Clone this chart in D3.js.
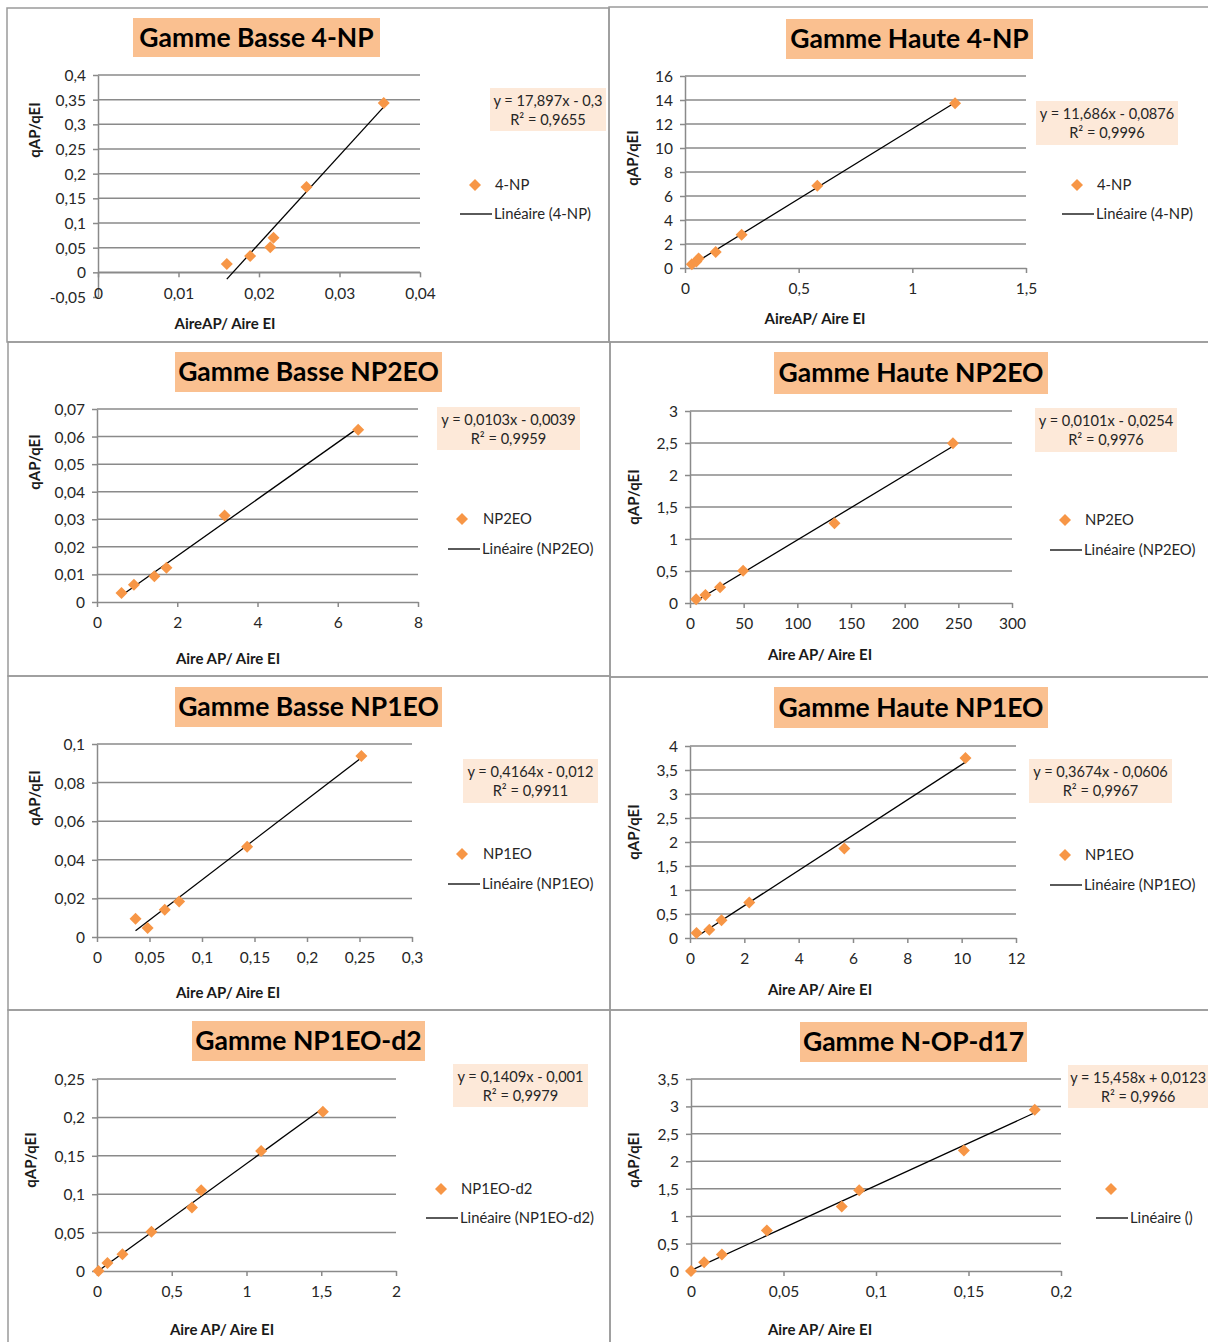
<!DOCTYPE html>
<html>
<head>
<meta charset="utf-8">
<script src="https://cdnjs.cloudflare.com/ajax/libs/d3/7.8.5/d3.min.js"></script>
<style>
  html, body { margin: 0; padding: 0; background: #fff; }
  svg { display: block; }
  text { font-family: Lato, "Open Sans", sans-serif; }
</style>
</head>
<body>
<svg id="chart" width="1208" height="1342"></svg>
<script>
// ---------------- DATA ----------------
const titles = ["Gamme Basse 4-NP", "Gamme Haute 4-NP", "Gamme Basse NP2EO", "Gamme Haute NP2EO",
                "Gamme Basse NP1EO", "Gamme Haute NP1EO", "Gamme NP1EO-d2", "Gamme N-OP-d17"];
const seriesNames = ["4-NP", "4-NP", "NP2EO", "NP2EO", "NP1EO", "NP1EO", "NP1EO-d2", ""];
const xTitles = ["AireAP/ Aire EI", "AireAP/ Aire EI", "Aire AP/ Aire EI", "Aire AP/ Aire EI",
                 "Aire AP/ Aire EI", "Aire AP/ Aire EI", "Aire AP/ Aire EI", "Aire AP/ Aire EI"];
const yTitle = "qAP/qEI";

const x4npBasse = [0.0160, 0.0189, 0.0214, 0.0218, 0.0259, 0.0355];
const y4npBasse = [0.017, 0.033, 0.051, 0.070, 0.173, 0.343];
const x4npHaute = [0.030, 0.050, 0.060, 0.135, 0.249, 0.582, 1.188];
const y4npHaute = [0.32, 0.55, 0.80, 1.33, 2.77, 6.85, 13.73];
const xNp2eoBasse = [0.61, 0.92, 1.43, 1.73, 3.18, 6.51];
const yNp2eoBasse = [0.0033, 0.0063, 0.0093, 0.0124, 0.0314, 0.0625];
const xNp2eoHaute = [5.7, 14.4, 28, 49.5, 134.6, 245];
const yNp2eoHaute = [0.057, 0.125, 0.245, 0.505, 1.245, 2.495];
const xNp1eoBasse = [0.0367, 0.0482, 0.0645, 0.0782, 0.143, 0.2518];
const yNp1eoBasse = [0.0094, 0.0047, 0.0141, 0.0184, 0.0467, 0.0938];
const xNp1eoHaute = [0.24, 0.71, 1.16, 2.18, 5.68, 10.14];
const yNp1eoHaute = [0.104, 0.174, 0.369, 0.737, 1.864, 3.75];
const xNp1eoD2 = [0.01, 0.07, 0.17, 0.364, 0.635, 0.697, 1.098, 1.511];
const yNp1eoD2 = [0.0, 0.0104, 0.0217, 0.0511, 0.0828, 0.1053, 0.1564, 0.2075];
const xNopD17 = [0.0, 0.0071, 0.0167, 0.041, 0.0815, 0.0909, 0.1475, 0.1858];
const yNopD17 = [0.0, 0.158, 0.303, 0.74, 1.176, 1.474, 2.195, 2.94];

const xSeries = [x4npBasse, x4npHaute, xNp2eoBasse, xNp2eoHaute, xNp1eoBasse, xNp1eoHaute, xNp1eoD2, xNopD17];
const ySeries = [y4npBasse, y4npHaute, yNp2eoBasse, yNp2eoHaute, yNp1eoBasse, yNp1eoHaute, yNp1eoD2, yNopD17];

const slopes = [17.897, 11.686, 0.0103, 0.0101, 0.4164, 0.3674, 0.1409, 15.458];
const intercepts = [-0.3, -0.0876, -0.0039, -0.0254, -0.012, -0.0606, -0.001, 0.0123];
const eqLabels = ["y = 17,897x - 0,3", "y = 11,686x - 0,0876", "y = 0,0103x - 0,0039", "y = 0,0101x - 0,0254",
                  "y = 0,4164x - 0,012", "y = 0,3674x - 0,0606", "y = 0,1409x - 0,001", "y = 15,458x + 0,0123"];
const r2Labels = ["R² = 0,9655", "R² = 0,9996", "R² = 0,9959", "R² = 0,9976",
                  "R² = 0,9911", "R² = 0,9967", "R² = 0,9979", "R² = 0,9966"];

const xTicks = [
  [0, 0.01, 0.02, 0.03, 0.04],
  [0, 0.5, 1, 1.5],
  [0, 2, 4, 6, 8],
  [0, 50, 100, 150, 200, 250, 300],
  [0, 0.05, 0.1, 0.15, 0.2, 0.25, 0.3],
  [0, 2, 4, 6, 8, 10, 12],
  [0, 0.5, 1, 1.5, 2],
  [0, 0.05, 0.1, 0.15, 0.2]
];
const yTicks = [
  [-0.05, 0, 0.05, 0.1, 0.15, 0.2, 0.25, 0.3, 0.35, 0.4],
  [0, 2, 4, 6, 8, 10, 12, 14, 16],
  [0, 0.01, 0.02, 0.03, 0.04, 0.05, 0.06, 0.07],
  [0, 0.5, 1, 1.5, 2, 2.5, 3],
  [0, 0.02, 0.04, 0.06, 0.08, 0.1],
  [0, 0.5, 1, 1.5, 2, 2.5, 3, 3.5, 4],
  [0, 0.05, 0.1, 0.15, 0.2, 0.25],
  [0, 0.5, 1, 1.5, 2, 2.5, 3, 3.5]
];

// ---------------- LAYOUT ----------------
const frames = [
  [7, 8, 609, 342], [609, 7, 1212, 342],
  [8, 342, 610, 676], [610, 342, 1212, 677],
  [8, 676, 610, 1010], [610, 677, 1212, 1010],
  [8, 1010, 610, 1346], [610, 1010, 1212, 1346]
];
// ea: equation text anchor ("middle" centred in box, "end" right-aligned inside box)
const layout = [
  {px: [98, 420],  py: [297, 75],   xt: [225, 324],  yt: [35, 130],   tb: [133, 18, 380, 57],   eb: [490, 88, 606, 131],   ea: "middle", lg: [475, 185, 214], lx: [460, 492]},
  {px: [685, 1026], py: [268, 76],  xt: [815, 319],  yt: [633, 158],  tb: [786, 19, 1033, 59],  eb: [1036, 101, 1178, 145], ea: "middle", lg: [1077, 185, 214], lx: [1062, 1094]},
  {px: [97, 418],  py: [602, 409],  xt: [228, 659],  yt: [35, 462],   tb: [175, 352, 442, 392], eb: [437, 407, 580, 450],  ea: "middle", lg: [462, 519, 549], lx: [448, 480]},
  {px: [690, 1012], py: [603, 411], xt: [820, 655],  yt: [634, 497],  tb: [774, 352, 1048, 394], eb: [1035, 408, 1177, 452], ea: "middle", lg: [1065, 520, 550], lx: [1050, 1082]},
  {px: [97, 412],  py: [937, 744],  xt: [228, 993],  yt: [35, 798],   tb: [175, 687, 442, 727], eb: [463, 759, 598, 803],  ea: "middle", lg: [462, 854, 884], lx: [448, 480]},
  {px: [690, 1016], py: [938, 746], xt: [820, 990],  yt: [634, 832],  tb: [774, 687, 1048, 728], eb: [1029, 759, 1172, 803], ea: "middle", lg: [1065, 855, 885], lx: [1050, 1082]},
  {px: [97, 396],  py: [1271, 1079], xt: [222, 1330], yt: [31, 1160], tb: [192, 1021, 425, 1061], eb: [453, 1064, 588, 1107], ea: "middle", lg: [441, 1189, 1218], lx: [426, 458]},
  {px: [691, 1061], py: [1271, 1079], xt: [820, 1330], yt: [634, 1160], tb: [800, 1022, 1027, 1062], eb: [1068, 1065, 1215, 1108], ea: "end", lg: [1111, 1189, 1218], lx: [1096, 1128]}
];

const ORANGE = "#f79646";
const GRID = "#8a8a8a";
const TXT = "#262626";
const fmt = v => String(+v.toFixed(6)).replace(".", ",");

const svg = d3.select("#chart");

// frames
frames.forEach(f => {
  svg.append("rect").attr("x", f[0]).attr("y", f[1]).attr("width", f[2] - f[0]).attr("height", f[3] - f[1])
    .attr("fill", "none").attr("stroke", "#9a9a9a").attr("stroke-width", 1.5);
});

layout.forEach((L, i) => {
  const g = svg.append("g");
  const xt = xTicks[i], yt = yTicks[i];
  const x = d3.scaleLinear().domain([xt[0], xt[xt.length - 1]]).range(L.px);
  const y = d3.scaleLinear().domain([yt[0], yt[yt.length - 1]]).range(L.py);

  // title box
  g.append("rect").attr("x", L.tb[0]).attr("y", L.tb[1]).attr("width", L.tb[2] - L.tb[0]).attr("height", L.tb[3] - L.tb[1])
    .attr("fill", "#fac090");
  g.append("text").attr("x", (L.tb[0] + L.tb[2]) / 2).attr("y", (L.tb[1] + L.tb[3]) / 2 + 9)
    .attr("text-anchor", "middle").attr("font-size", 26.5).attr("font-weight", "bold").attr("fill", "#000")
    .text(titles[i]);

  // gridlines
  g.append("g").selectAll("line").data(yt.slice(1)).join("line")
    .attr("x1", L.px[0]).attr("x2", L.px[1]).attr("y1", d => y(d)).attr("y2", d => y(d))
    .attr("stroke", GRID).attr("stroke-width", 1.5);

  // y axis
  const ya = g.append("g").attr("transform", `translate(${L.px[0]},0)`)
    .call(d3.axisLeft(y).tickValues(yt).tickFormat(fmt).tickSizeInner(5).tickSizeOuter(0).tickPadding(7));
  // x axis at y = 0
  const xa = g.append("g").attr("transform", `translate(0,${y(0)})`)
    .call(d3.axisBottom(x).tickValues(xt).tickFormat(fmt).tickSizeInner(5).tickSizeOuter(0).tickPadding(0));
  [ya, xa].forEach(a => {
    a.selectAll("path.domain").attr("stroke", GRID).attr("stroke-width", 1.5);
    a.selectAll(".tick line").attr("stroke", GRID).attr("stroke-width", 1.5);
    a.selectAll(".tick text").attr("font-size", 15.5).attr("fill", TXT).attr("font-family", "Lato, sans-serif");
  });
  xa.selectAll(".tick text").attr("y", 21).attr("dy", "0.35em");
  ya.selectAll(".tick text").attr("dy", "0.35em");

  // axis titles
  g.append("text").attr("x", L.xt[0]).attr("y", L.xt[1] + 5).attr("text-anchor", "middle")
    .attr("font-size", 15).attr("font-weight", "bold").attr("fill", "#1a1a1a").text(xTitles[i]);
  g.append("text").attr("transform", `translate(${L.yt[0] + 5},${L.yt[1]}) rotate(-90)`).attr("text-anchor", "middle")
    .attr("font-size", 15).attr("font-weight", "bold").attr("fill", "#1a1a1a").text(yTitle);

  // trendline
  const xs = xSeries[i], ys = ySeries[i];
  const x0 = d3.min(xs), x1 = d3.max(xs);
  const tl = [[x0, slopes[i] * x0 + intercepts[i]], [x1, slopes[i] * x1 + intercepts[i]]];
  g.append("path").datum(tl)
    .attr("d", d3.line().x(d => x(d[0])).y(d => y(d[1])))
    .attr("fill", "none").attr("stroke", "#000").attr("stroke-width", 1.3);

  // markers
  const diamond = "M0,-6L6,0L0,6L-6,0Z";
  g.append("g").selectAll("path").data(xs.map((v, k) => [v, ys[k]])).join("path")
    .attr("d", diamond).attr("transform", d => `translate(${x(d[0])},${y(d[1])})`)
    .attr("fill", ORANGE);

  // equation box
  g.append("rect").attr("x", L.eb[0]).attr("y", L.eb[1]).attr("width", L.eb[2] - L.eb[0]).attr("height", L.eb[3] - L.eb[1])
    .attr("fill", "#fde9d9");
  const ecx = (L.eb[0] + L.eb[2]) / 2, ecy = (L.eb[1] + L.eb[3]) / 2;
  if (L.ea === "end") {
    // right-aligned to the visible page edge; second line centred under the first
    const t1 = g.append("text").attr("x", 1206).attr("y", ecy - 4).attr("text-anchor", "end")
      .attr("font-size", 14.4).attr("fill", TXT).text(eqLabels[i]);
    const w = t1.node().getComputedTextLength();
    g.append("text").attr("x", 1206 - w / 2).attr("y", ecy + 15).attr("text-anchor", "middle")
      .attr("font-size", 14.4).attr("fill", TXT).text(r2Labels[i]);
  } else {
    g.append("text").attr("x", ecx).attr("y", ecy - 4).attr("text-anchor", "middle")
      .attr("font-size", 14.6).attr("fill", TXT).text(eqLabels[i]);
    g.append("text").attr("x", ecx).attr("y", ecy + 15).attr("text-anchor", "middle")
      .attr("font-size", 14.6).attr("fill", TXT).text(r2Labels[i]);
  }

  // legend
  g.append("path").attr("d", diamond).attr("transform", `translate(${L.lg[0]},${L.lg[1]})`).attr("fill", ORANGE);
  g.append("text").attr("x", L.lx[1] + 3).attr("y", L.lg[1] + 5).attr("font-size", 14.8).attr("fill", TXT)
    .text(seriesNames[i]);
  g.append("line").attr("x1", L.lx[0]).attr("x2", L.lx[1]).attr("y1", L.lg[2]).attr("y2", L.lg[2])
    .attr("stroke", "#000").attr("stroke-width", 1.3);
  g.append("text").attr("x", L.lx[1] + 2).attr("y", L.lg[2] + 5).attr("font-size", 14.8).attr("fill", TXT)
    .text(`Linéaire (${seriesNames[i]})`);
});
</script>
</body>
</html>
